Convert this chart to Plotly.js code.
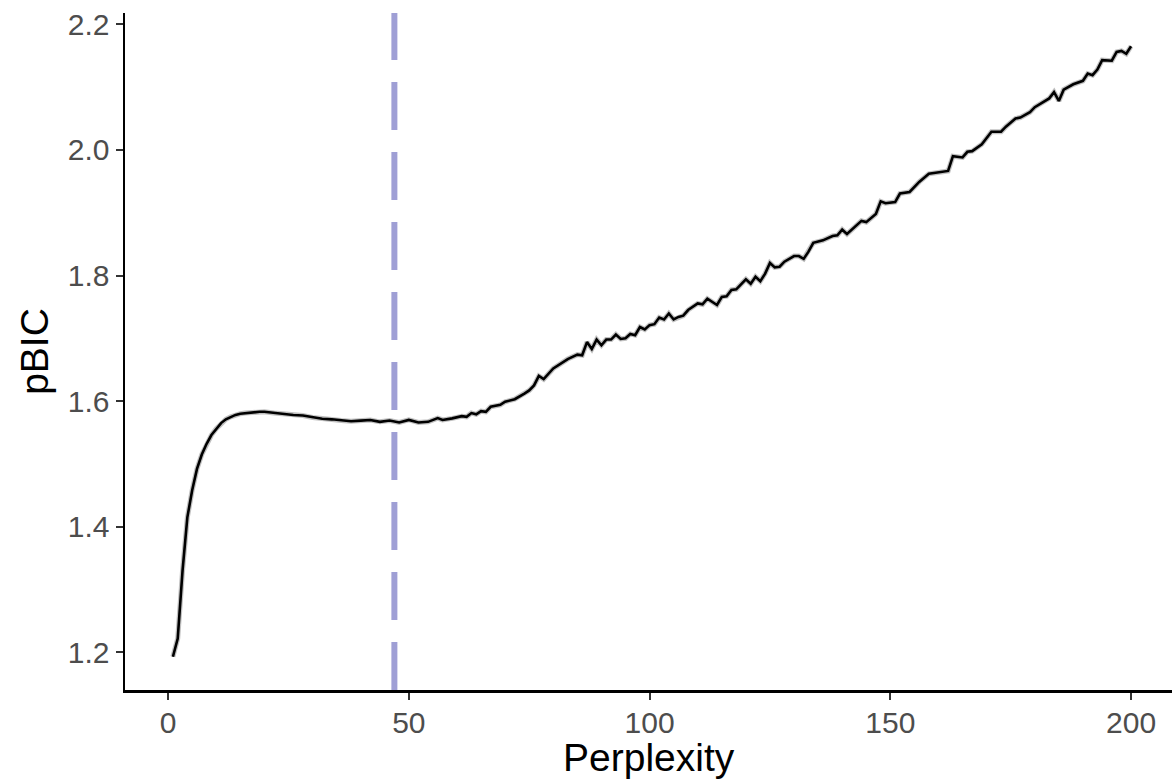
<!DOCTYPE html>
<html>
<head>
<meta charset="utf-8">
<script src="https://cdn.plot.ly/plotly-3.0.1.min.js"></script>
<style>html,body{margin:0;padding:0;background:#fff;overflow:hidden}</style>
</head>
<body>
<div id="chart" style="width:1172px;height:784px"></div>
<script>
const perplexity = [1,2,3,4,5,6,7,8,9,10,11,12,13,14,15,16,17,18,19,20,22,24,26,28,30,32,34,36,38,40,42,44,46,48,50,52,54,56,57,59,61,62,63,64,65,66,67,69,70,72,73,74,75,76,77,78,80,81,83,85,86,87,88,89,90,91,92,93,94,95,96,97,98,99,100,101,102,103,104,105,106,107,108,110,111,112,114,115,116,117,118,120,121,122,123,124,125,126,127,128,130,131,132,133,134,136,138,139,140,141,143,144,145,147,148,149,151,152,154,156,158,162,163,165,166,167,169,171,173,174,176,177,179,180,183,184,185,186,188,190,191,192,193,194,196,197,198,199,200];
const pBIC = [1.193,1.222,1.330,1.415,1.458,1.492,1.515,1.532,1.546,1.556,1.565,1.571,1.575,1.578,1.580,1.581,1.582,1.583,1.583,1.583,1.581,1.580,1.578,1.577,1.574,1.572,1.571,1.569,1.568,1.569,1.570,1.567,1.569,1.566,1.570,1.566,1.567,1.573,1.570,1.5725,1.576,1.575,1.581,1.579,1.584,1.583,1.591,1.594,1.599,1.603,1.607,1.612,1.617,1.625,1.640,1.635,1.652,1.657,1.667,1.674,1.673,1.694,1.683,1.698,1.689,1.698,1.698,1.706,1.699,1.700,1.707,1.705,1.718,1.714,1.721,1.7225,1.733,1.730,1.7395,1.730,1.734,1.736,1.745,1.7555,1.754,1.763,1.753,1.766,1.767,1.777,1.778,1.794,1.787,1.798,1.791,1.803,1.820,1.813,1.814,1.822,1.831,1.831,1.8265,1.838,1.852,1.856,1.863,1.864,1.873,1.866,1.880,1.887,1.885,1.898,1.918,1.915,1.917,1.9305,1.933,1.949,1.962,1.9665,1.990,1.988,1.997,1.998,2.009,2.029,2.029,2.037,2.050,2.0515,2.060,2.068,2.082,2.092,2.078,2.096,2.1045,2.110,2.1215,2.119,2.128,2.143,2.142,2.156,2.1575,2.153,2.165];
const chosenPerplexity = 47;
const xTicks = [0,50,100,150,200];
const xTickLabels = ["0","50","100","150","200"];
const yTicks = [1.2,1.4,1.6,1.8,2.0,2.2];
const yTickLabels = ["1.2","1.4","1.6","1.8","2.0","2.2"];
const xTitle = "Perplexity";
const yTitle = "pBIC";

const font = "Liberation Sans, Arial, Helvetica, sans-serif";
const traces = [
  {x: perplexity, y: pBIC, type: "scatter", mode: "lines",
   line: {color: "rgba(140,140,140,0.55)", width: 5}, hoverinfo: "skip", showlegend: false},
  {x: perplexity, y: pBIC, type: "scatter", mode: "lines",
   line: {color: "#000000", width: 2.6}, showlegend: false}
];
const layout = {
  width: 1172, height: 784, autosize: false,
  margin: {l: 125, r: 0, t: 13, b: 94, pad: 0},
  paper_bgcolor: "#ffffff", plot_bgcolor: "#ffffff",
  showlegend: false,
  font: {family: font, color: "#000"},
  xaxis: {
    range: [-8.95, 208.5], showgrid: false, zeroline: false,
    showline: true, linecolor: "#000", linewidth: 2.5,
    ticks: "outside", ticklen: 7, tickwidth: 2, tickcolor: "#333333",
    tickvals: xTicks, ticktext: xTickLabels,
    tickfont: {family: font, size: 30, color: "#4d4d4d"},
    ticklabelstandoff: -3,
    automargin: false, fixedrange: true
  },
  yaxis: {
    range: [1.14, 2.218], showgrid: false, zeroline: false,
    showline: true, linecolor: "#000", linewidth: 2.5,
    ticks: "outside", ticklen: 7, tickwidth: 2, tickcolor: "#333333",
    tickvals: yTicks, ticktext: yTickLabels,
    tickfont: {family: font, size: 30, color: "#4d4d4d"},
    title: {text: yTitle, font: {family: font, size: 39, color: "#000"}, standoff: 7},
    automargin: false, fixedrange: true
  },
  annotations: [{
    text: xTitle, xref: "paper", yref: "paper", x: 0.5, y: -0.1,
    xanchor: "center", yanchor: "middle", showarrow: false, borderpad: 0,
    font: {family: font, size: 39, color: "#000"}
  }],
  shapes: [{
    type: "line", xref: "x", yref: "paper",
    x0: chosenPerplexity, x1: chosenPerplexity, y0: 0, y1: 1,
    line: {color: "#9f9fd5", width: 6, dash: "48px,22px"}, layer: "above"
  }]
};
Plotly.newPlot("chart", traces, layout, {displayModeBar: false, staticPlot: true});
</script>
</body>
</html>
